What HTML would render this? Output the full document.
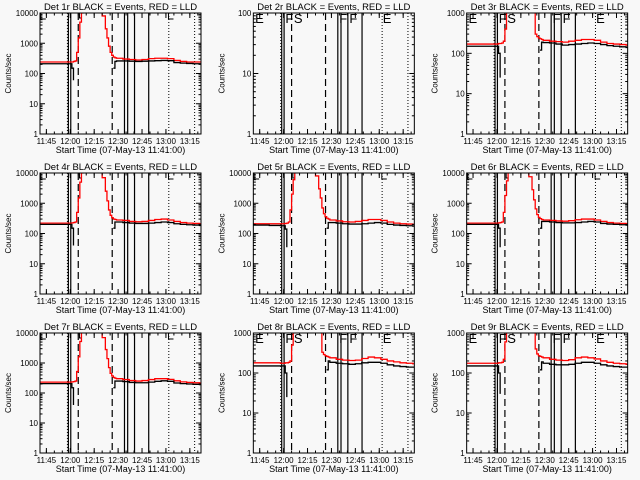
<!DOCTYPE html>
<html><head><meta charset="utf-8">
<style>
html,body{margin:0;padding:0;background:#f8f8f8;}
svg{display:block;font-family:"Liberation Sans",sans-serif;}
text{fill:#000;}
</style></head>
<body>
<svg id="chart" width="640" height="480" viewBox="0 0 640 480" xmlns="http://www.w3.org/2000/svg">
<rect width="640" height="480" fill="#f8f8f8"/>
</svg>
<script>
// Shared time base (minutes since 11:41:00)
const times = [0,10,17,19,20,21,22,23,24,25,26,27,37,39,41,42,43,44,45,46,47,48,52,56,60,64,68,72,76,80,84,88,92,96,100];
const tickLabels = ["11:45","12:00","12:15","12:30","12:45","13:00","13:15"];
const tickMinutes = [4,19,34,49,64,79,94];
const detNames = ["Det 1r","Det 2r","Det 3r","Det 4r","Det 5r","Det 6r","Det 7r","Det 8r","Det 9r"];
const yMaxExp = [4,2,3,4,4,4,4,3,3];
const solidLines = [17.8,19.3,53,55,59.3,68.2];
const dashedLines = [24,45.3];
const dottedLines = [17.2,80.8,97];
const segLetters = ["E","F","S","F","F","E"];
const segLetterMinutes = [0.5,19.5,24.8,53.3,59.6,80.6];

const red1 = [240,240,240,240,240,250,260,500,1500,5000,10000,15000,15000,8000,3000,1500,800,500,400,350,330,320,300,290,280,290,310,320,320,310,270,250,240,240,240];
const black1 = [210,210,210,210,150,60,null,null,null,null,null,null,null,null,null,null,null,null,null,150,250,260,260,255,250,255,260,265,270,265,230,220,215,210,210];
const red2 = [null,null,null,null,null,null,null,null,null,null,null,null,null,null,null,null,null,null,null,null,null,null,null,null,null,null,null,null,null,null,null,null,null,null,null];
const black2 = red2;
const red3 = [170,170,170,170,175,175,180,200,400,1500,3000,5000,5000,4000,2500,1500,300,260,240,230,220,210,200,195,190,200,210,220,220,210,190,175,170,165,160];
const black3 = [150,150,150,150,100,25,null,null,null,null,null,null,null,null,null,null,null,null,null,120,190,185,180,170,160,165,170,175,180,175,165,155,150,145,140];
const red4 = [220,220,220,220,225,230,240,500,1500,5000,10000,15000,15000,7000,2500,1200,600,400,330,300,290,280,270,250,245,250,270,290,300,280,250,230,220,215,210];
const black4 = [200,200,200,200,150,40,null,null,null,null,null,null,null,null,null,null,null,null,null,150,240,240,230,220,215,215,220,230,240,230,210,200,195,190,185];
const red5 = [210,210,210,210,215,220,240,600,2000,6000,12000,15000,15000,8000,3000,1500,700,450,360,320,300,280,260,245,240,250,270,290,290,270,240,220,210,205,200];
const black5 = [190,185,180,180,140,35,null,null,null,null,null,null,null,null,null,null,null,null,null,150,230,230,220,210,205,205,210,220,230,220,200,190,185,180,175];
const red6 = [220,220,220,220,225,230,240,500,1800,5500,11000,15000,15000,7500,2800,1300,650,420,340,310,290,280,270,260,255,265,285,300,300,280,250,230,220,215,210];
const black6 = [200,200,200,200,150,35,null,null,null,null,null,null,null,null,null,null,null,null,null,150,250,250,240,230,225,225,230,240,250,240,215,205,200,195,190];
const red7 = [230,230,230,230,235,240,250,520,1600,5200,10500,15000,12000,7000,2800,1400,700,450,370,330,310,300,280,260,250,260,280,300,300,285,255,235,225,220,215];
const black7 = [205,205,205,205,150,40,null,null,null,null,null,null,null,null,null,null,null,null,null,150,250,250,240,225,220,220,230,245,255,245,215,205,200,195,190];
const red8 = [180,180,175,175,180,180,185,200,500,2000,4000,6000,6000,4000,2500,1500,330,290,270,260,250,240,220,210,205,210,230,250,240,220,200,190,180,175,170];
const black8 = [150,150,150,150,100,25,null,null,null,null,null,null,null,null,null,null,null,null,null,120,200,185,175,170,165,170,180,185,185,175,160,150,145,140,140];
const red9 = [175,175,175,175,180,180,185,220,600,2000,4000,6000,6000,4000,2500,1500,400,300,270,260,250,240,220,210,205,215,240,250,240,225,200,185,175,170,165];
const black9 = [150,150,150,150,100,30,null,null,null,null,null,null,null,null,null,null,null,null,null,120,190,175,165,160,160,165,175,185,185,175,160,150,145,140,140];
const redAll = [red1,red2,red3,red4,red5,red6,red7,red8,red9];
const blackAll = [black1,black2,black3,black4,black5,black6,black7,black8,black9];

const NS = "http://www.w3.org/2000/svg";
const svg = document.getElementById("chart");
const T_MAX = 101;
function mk(tag, attrs, parent){
  const e = document.createElementNS(NS, tag);
  for (const k in attrs) e.setAttribute(k, attrs[k]);
  (parent||svg).appendChild(e);
  return e;
}

for (let i = 0; i < 9; i++) {
  const col = i % 3, row = Math.floor(i / 3);
  const ox = col * 213.33, oy = row * 160;
  const L = ox + 40, R = ox + 201, TOP = oy + 13, B = oy + 134 - (row === 2 ? 1 : 0);
  const maxE = yMaxExp[i];
  const xs = t => L + (t / T_MAX) * (R - L);
  const ys = v => B - (Math.log10(v) / maxE) * (B - TOP);

  const g = mk("g", {});
  
  

  const cp = mk("clipPath", {id: "clip" + i}, g);
  mk("rect", {x: L, y: TOP, width: R - L, height: B - TOP}, cp);

  const title = mk("text", {x: (L + R) / 2, y: oy + 10, "text-anchor": "middle", style: "font-size:9.5px"}, g);
  title.textContent = detNames[i] + " BLACK = Events, RED = LLD";
  
  

  const vg = mk("g", {"clip-path": "url(#clip" + i + ")"}, g);
  
  
  solidLines.forEach(t => mk("line", {x1: xs(t), x2: xs(t), y1: TOP, y2: B, stroke: "#000", "stroke-width": 1.2}, vg));
  dashedLines.forEach(t => mk("line", {x1: xs(t), x2: xs(t), y1: TOP, y2: B, stroke: "#000", "stroke-width": 1.2, "stroke-dasharray": "7,4"}, vg));
  dottedLines.forEach(t => mk("line", {x1: xs(t), x2: xs(t), y1: TOP, y2: B, stroke: "#000", "stroke-width": 1, "stroke-dasharray": "1,2"}, vg));

  if (maxE < 4) {
    segLetters.forEach((s, k) => {
      const tx = mk("text", {x: xs(segLetterMinutes[k]) + 1, y: TOP + 10, style: "font-size:13px"}, g);
      tx.textContent = s;
      
      
    });
  } else {
    [0.5, 80.6].forEach(t => mk("path", {d: `M${xs(t)+5},${TOP} H${xs(t)} V${TOP+6} H${xs(t)+5}`, fill: "none", stroke: "#000"}, g));
    mk("path", {d: `M${xs(24.8)},${TOP} V${TOP+5} H${xs(26)}`, fill: "none", stroke: "#000"}, g);
  }

  function series(vals, color, name) {
    let d = "", pen = false;
    for (let k = 0; k < times.length; k++) {
      const v = vals[k];
      if (v === null || v === undefined) { pen = false; continue; }
      const x = xs(times[k]), y = ys(v);
      if (!pen) { d += `M${x},${y}`; pen = true; }
      else { d += `H${x}V${y}`; }
    }
    if (pen) d += `H${xs(T_MAX)}`;
    if (!d) return;
    const p = mk("path", {d: d, fill: "none", stroke: color, "stroke-width": 1.3, "clip-path": "url(#clip" + i + ")"}, g);
    
    
  }
  series(redAll[i], "#ff0000", "lld-series");
  series(blackAll[i], "#000000", "events-series");

  mk("rect", {x: L, y: TOP, width: R - L, height: B - TOP, fill: "none", stroke: "#000", "stroke-width": 1}, g);

  for (let e = 0; e <= maxE; e++) {
    const y = ys(Math.pow(10, e));
    mk("line", {x1: L, x2: L + 5, y1: y, y2: y, stroke: "#000"}, g);
    mk("line", {x1: R, x2: R - 5, y1: y, y2: y, stroke: "#000"}, g);
    const lb = mk("text", {x: L - 2, y: y + 3, "text-anchor": "end", style: "font-size:8px"}, g);
    lb.textContent = String(Math.pow(10, e));
    
    
    if (e < maxE) for (let m = 2; m <= 9; m++) {
      const ym = ys(m * Math.pow(10, e));
      mk("line", {x1: L, x2: L + 2.5, y1: ym, y2: ym, stroke: "#000"}, g);
      mk("line", {x1: R, x2: R - 2.5, y1: ym, y2: ym, stroke: "#000"}, g);
    }
  }
  tickMinutes.forEach((t, k) => {
    const x = xs(t);
    mk("line", {x1: x, x2: x, y1: B, y2: B - 5, stroke: "#000"}, g);
    mk("line", {x1: x, x2: x, y1: TOP, y2: TOP + 5, stroke: "#000"}, g);
    const lb = mk("text", {x: x, y: B + 10, "text-anchor": "middle", style: "font-size:8px"}, g);
    lb.textContent = tickLabels[k];
    
    
  });
  for (let t = 1; t < T_MAX; t += 5) {
    const x = xs(t + 3);
    if (t + 3 >= T_MAX) break;
    mk("line", {x1: x, x2: x, y1: B, y2: B - 2.5, stroke: "#000"}, g);
    mk("line", {x1: x, x2: x, y1: TOP, y2: TOP + 2.5, stroke: "#000"}, g);
  }

  const xt = mk("text", {x: (L + R) / 2, y: B + 19, "text-anchor": "middle", style: "font-size:9px"}, g);
  xt.textContent = "Start Time (07-May-13 11:41:00)";
  
  
  const yt = mk("text", {x: 0, y: 0, "text-anchor": "middle", style: "font-size:8px", transform: `translate(${ox + 11},${(TOP + B) / 2}) rotate(-90)`}, g);
  yt.textContent = "Counts/sec";
  
  
}
</script>
</body></html>
